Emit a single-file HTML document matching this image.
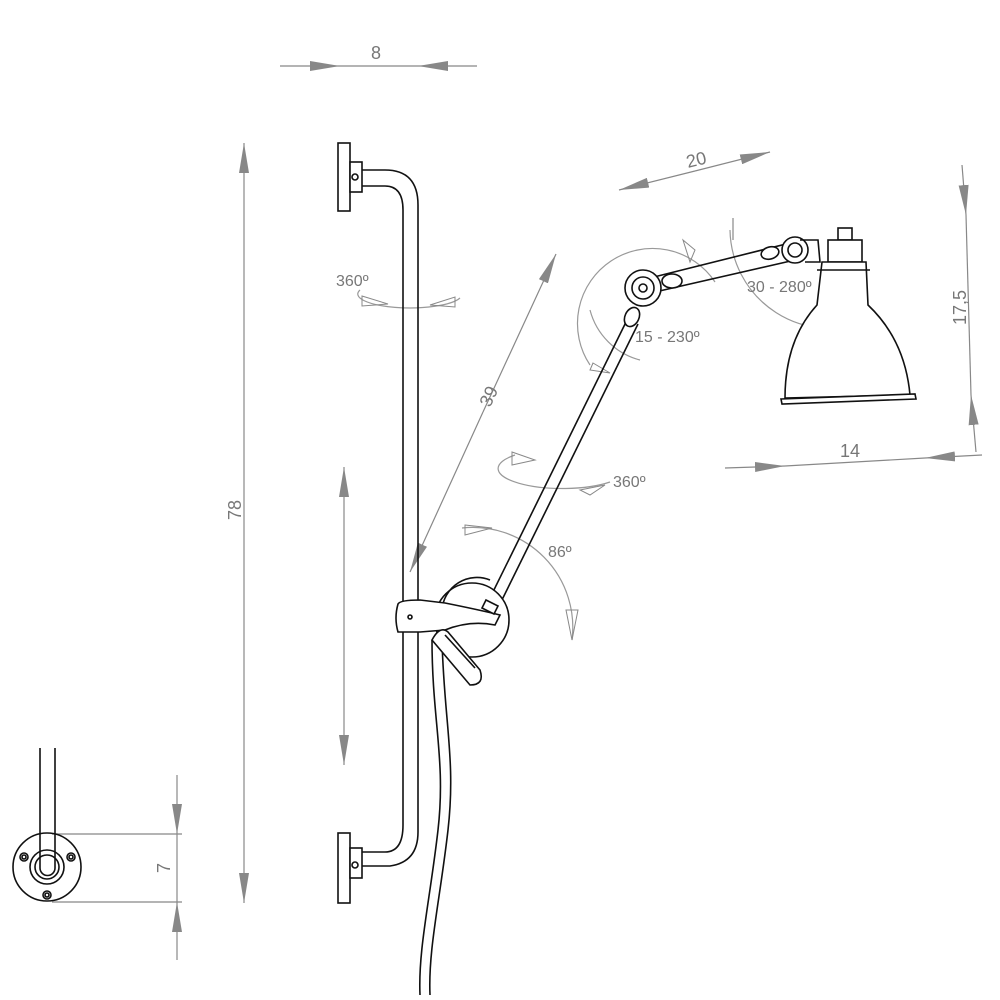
<!DOCTYPE html>
<html><head><meta charset="utf-8"><style>body{margin:0;background:#fff}svg{display:block}text{font-family:"Liberation Sans",sans-serif;fill:#777}</style></head><body>
<svg width="1000" height="1000" viewBox="0 0 1000 1000" xmlns="http://www.w3.org/2000/svg">
<defs>
<marker id="a" viewBox="0 0 30 10" refX="30" refY="5" markerWidth="30" markerHeight="10" markerUnits="userSpaceOnUse" orient="auto"><path d="M0,0L30,5L0,10Z" fill="#888"/></marker>
</defs>
<g stroke="#888" stroke-width="1.2" fill="none">
<!-- 8 -->
<line x1="280" y1="66" x2="340" y2="66" marker-end="url(#a)"/><line x1="477" y1="66" x2="418" y2="66" marker-end="url(#a)"/><line x1="340" y1="66" x2="418" y2="66"/>
<!-- 78 -->
<line x1="244" y1="300" x2="244" y2="143" marker-end="url(#a)"/><line x1="244" y1="300" x2="244" y2="903" marker-end="url(#a)"/>
<!-- inner -->
<line x1="344" y1="600" x2="344" y2="467" marker-end="url(#a)"/><line x1="344" y1="600" x2="344" y2="765" marker-end="url(#a)"/>
<!-- 39 -->
<line x1="483" y1="412" x2="556" y2="254" marker-end="url(#a)"/><line x1="483" y1="412" x2="410" y2="572" marker-end="url(#a)"/>
<!-- 20 -->
<line x1="695" y1="171" x2="619" y2="190" marker-end="url(#a)"/><line x1="695" y1="171" x2="770" y2="152" marker-end="url(#a)"/>
<!-- 17,5 -->
<line x1="962" y1="165" x2="966" y2="215" marker-end="url(#a)"/><line x1="966" y1="215" x2="971" y2="395"/><line x1="976" y1="452" x2="971" y2="395" marker-end="url(#a)"/>
<!-- 14 -->
<line x1="725" y1="468" x2="785" y2="466" marker-end="url(#a)"/><line x1="785" y1="466" x2="925" y2="458"/><line x1="982" y1="455" x2="925" y2="458" marker-end="url(#a)"/>
<!-- 7 -->
<line x1="177" y1="775" x2="177" y2="834" marker-end="url(#a)"/><line x1="177" y1="960" x2="177" y2="902" marker-end="url(#a)"/><line x1="177" y1="834" x2="177" y2="902"/>
<line x1="52" y1="834" x2="182" y2="834"/><line x1="52" y1="902" x2="182" y2="902"/>
<!-- angle arcs -->
<path d="M360,290 A45,12 0 1 0 460,298" stroke="#999"/>
<path d="M515,455 A45,14 0 1 0 610,482" stroke="#999"/>
<path d="M462,528 A100,100 0 0 1 572,640" stroke="#999"/>
<path d="M590,365 A75,75 0 1 1 715,282" stroke="#999"/>
<path d="M590,310 A70,70 0 0 0 640,360" stroke="#999"/>
<path d="M730,230 A100,100 0 0 0 870,320" stroke="#999"/>
<path d="M733,218 L733,240"/>
<line x1="818" y1="315" x2="818" y2="342" stroke="#999"/>
</g>
<g fill="none" stroke="#888" stroke-width="1">
<path d="M362,296 L388,304 L362,306Z"/><path d="M430,305 L455,297 L455,307Z"/>
<path d="M512,452 L535,460 L512,465Z"/><path d="M580,490 L605,485 L590,495Z"/>
<path d="M465,525 L492,528 L465,535Z"/><path d="M566,610 L572,640 L578,610Z"/>
<path d="M593,363 L610,373 L590,370Z"/><path d="M683,240 L695,250 L690,262Z"/>
<path d="M822,335 L845,330 L845,342Z"/>
</g>
<g font-size="16">
<text x="371" y="59" font-size="18">8</text>
<text x="336" y="286">360º</text>
<text x="613" y="487">360º</text>
<text x="548" y="557">86º</text>
<text x="635" y="342">15 - 230º</text>
<text x="747" y="292">30 - 280º</text>
<text x="840" y="457" font-size="18">14</text>
<text transform="translate(688,168) rotate(-14)" font-size="18">20</text>
<text transform="translate(490,408) rotate(-65)" font-size="18">39</text>
<text transform="translate(241,520) rotate(-90)" font-size="18">78</text>
<text transform="translate(966,325) rotate(-90)" font-size="18">17,5</text>
<text transform="translate(170,873) rotate(-90)" font-size="18">7</text>
</g>
<g stroke="#111" stroke-width="1.6" fill="none">
<!-- rail -->
<path d="M362,170 L385,170 Q418,170 418,205 L418,832 Q418,862 390,866 L362,866"/>
<path d="M362,186 L385,186 Q403,186 403,210 L403,825 Q403,852 385,852 L362,852"/>
<rect x="338" y="143" width="12" height="68" fill="#fff"/><rect x="350" y="162" width="12" height="30" fill="#fff"/><circle cx="355" cy="177" r="3"/>
<rect x="338" y="833" width="12" height="70" fill="#fff"/><rect x="350" y="848" width="12" height="30" fill="#fff"/><circle cx="355" cy="865" r="3"/>
<!-- cord -->
<path d="M432,640 C432,720 446,760 438,830 C430,900 418,950 420,995"/>
<path d="M442,640 C444,720 456,760 448,830 C440,900 428,950 430,995"/>
<!-- arm -->
<path d="M487,604 L628,318"/><path d="M497,610 L638,324"/>
<!-- clamp -->
<circle cx="472" cy="620" r="37" fill="#fff"/>
<path d="M442,610 A35,35 0 0 1 490,580" />
<path d="M398,604 Q400,600 420,600 L445,603 Q480,610 500,615 L495,625 Q470,620 445,630 L420,632 L398,632 Q394,618 398,604Z" fill="#fff"/>
<circle cx="410" cy="617" r="2"/>
<path d="M432,640 Q440,625 448,632 L480,670 Q485,685 470,685 Z" fill="#fff"/>
<line x1="445" y1="635" x2="475" y2="668"/>
<path d="M486,600 L498,606 L494,614 L482,608Z" fill="#fff"/>
<!-- upper arm -->
<path d="M650,278 L790,243"/><path d="M655,292 L795,260"/>
<circle cx="643" cy="288" r="18" fill="#fff"/><circle cx="643" cy="288" r="11"/><circle cx="643" cy="288" r="4"/>
<ellipse cx="632" cy="317" rx="7" ry="10" transform="rotate(25 632 317)" fill="#fff"/>
<ellipse cx="672" cy="281" rx="10" ry="7" fill="#fff"/>
<ellipse cx="770" cy="253" rx="9" ry="6" transform="rotate(-15 770 253)" fill="#fff"/>
<circle cx="795" cy="250" r="13" fill="#fff"/><circle cx="795" cy="250" r="7"/>
<path d="M800,240 L818,240 L820,262 L805,262"/>
<!-- shade -->
<rect x="838" y="228" width="14" height="12" fill="#fff"/><rect x="828" y="240" width="34" height="22" fill="#fff"/>
<path d="M822,262 L866,262 L868,305 Q905,340 910,395 L785,398 Q785,340 817,305 Z" fill="#fff"/>
<path d="M817,270 L870,270"/>
<path d="M781,399 L915,394 L916,399 L782,404Z" fill="#fff"/>
<!-- small view -->
<circle cx="47" cy="867" r="34"/>
<circle cx="47" cy="867" r="17"/><circle cx="47" cy="867" r="12"/>
<circle cx="24" cy="857" r="4"/><circle cx="24" cy="857" r="2"/>
<circle cx="71" cy="857" r="4"/><circle cx="71" cy="857" r="2"/>
<circle cx="47" cy="895" r="4"/><circle cx="47" cy="895" r="2"/>
<path d="M40,748 L40,868 A7.5,7.5 0 0 0 55,868 L55,748"/>
</g>
</svg>
</body></html>
